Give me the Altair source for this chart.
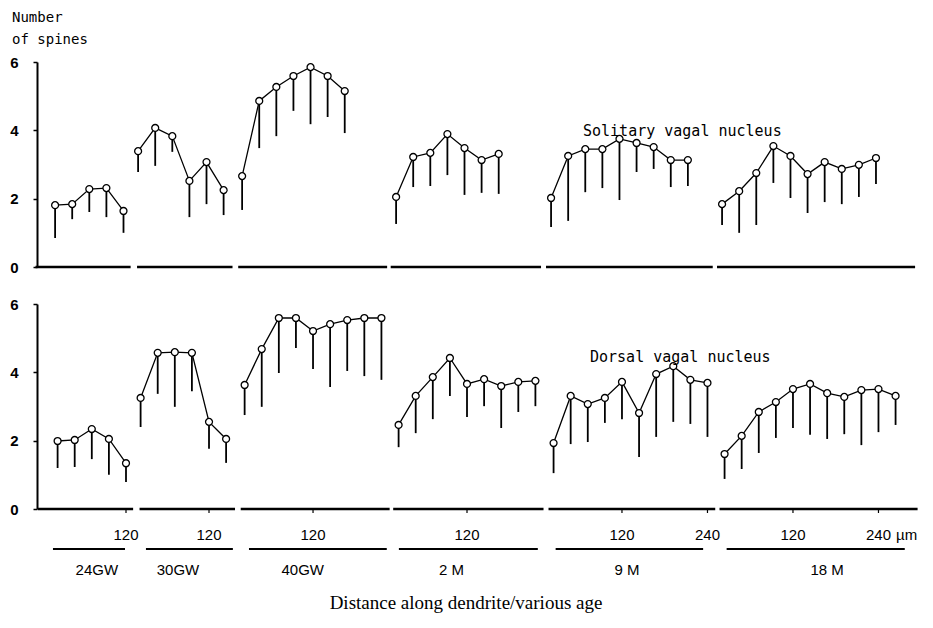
import altair as alt
import pandas as pd

# ---------------- data ----------------
groups = ["24GW", "30GW", "40GW", "2 M", "9 M", "18 M"]
step_um = 24  # spacing of measurement points along dendrite (µm)

# Solitary vagal nucleus: mean number of spines and lower end of SD bar
sol_mean = {
    "24GW": [1.81, 1.84, 2.28, 2.31, 1.64],
    "30GW": [3.39, 4.07, 3.83, 2.52, 3.07, 2.25],
    "40GW": [2.66, 4.86, 5.27, 5.59, 5.85, 5.59, 5.15],
    "2 M": [2.05, 3.22, 3.34, 3.89, 3.48, 3.13, 3.31],
    "9 M": [2.02, 3.25, 3.45, 3.45, 3.75, 3.63, 3.51, 3.13, 3.13],
    "18 M": [1.84, 2.22, 2.75, 3.54, 3.25, 2.72, 3.07, 2.87, 2.99, 3.19],
}
sol_lower = {
    "24GW": [0.85, 1.40, 1.61, 1.46, 1.00],
    "30GW": [2.78, 2.96, 3.37, 1.46, 1.84, 1.52],
    "40GW": [1.67, 3.48, 3.83, 4.57, 4.18, 4.39, 3.92],
    "2 M": [1.26, 2.34, 2.37, 2.69, 2.11, 2.17, 2.14],
    "9 M": [1.17, 1.35, 2.19, 2.31, 1.96, 2.78, 2.87, 2.34, 2.37],
    "18 M": [1.23, 1.00, 1.23, 2.46, 2.02, 1.58, 1.90, 1.84, 2.05, 2.43],
}
# Dorsal vagal nucleus
dor_mean = {
    "24GW": [1.99, 2.02, 2.34, 2.05, 1.34],
    "30GW": [3.25, 4.57, 4.59, 4.57, 2.55, 2.05],
    "40GW": [3.63, 4.68, 5.59, 5.59, 5.21, 5.41, 5.53, 5.59, 5.59],
    "2 M": [2.46, 3.31, 3.86, 4.42, 3.66, 3.80, 3.60, 3.72, 3.75],
    "9 M": [1.93, 3.31, 3.07, 3.25, 3.72, 2.81, 3.95, 4.18, 3.78, 3.69],
    "18 M": [1.61, 2.14, 2.84, 3.13, 3.51, 3.66, 3.39, 3.28, 3.48, 3.51, 3.31],
}
dor_lower = {
    "24GW": [1.20, 1.23, 1.46, 1.00, 0.79],
    "30GW": [2.40, 3.37, 2.99, 3.45, 1.76, 1.35],
    "40GW": [2.75, 2.99, 3.98, 4.71, 4.10, 3.57, 4.04, 3.89, 3.78],
    "2 M": [1.81, 2.22, 2.63, 3.31, 2.69, 3.01, 2.37, 2.84, 3.01],
    "9 M": [1.05, 1.90, 1.96, 2.52, 2.63, 1.52, 2.11, 2.55, 2.49, 2.11],
    "18 M": [0.88, 1.17, 1.64, 2.08, 2.37, 2.17, 2.05, 2.19, 1.87, 2.25, 2.46],
}
tick_values = {
    "24GW": [120], "30GW": [120], "40GW": [120], "2 M": [120],
    "9 M": [120, 240], "18 M": [120, 240],
}

# ---------------- layout constants (global µm axis) ----------------
group_offset = [0, 116.5, 262.5, 478.6, 696.1, 936.1]
seg_start = [-3.5, 139, 281, 495, 713, 953]
seg_end = [130, 273, 490, 706, 947, 1231]
lab_line_start = [17.5, 148, 292.6, 503, 723, 963]
lab_line_end = [118.6, 270, 486, 698, 930, 1213]
lab_center = [79, 193, 368, 577, 823, 1104]


def build(mean, lower):
    rows = []
    for g, off in zip(groups, group_offset):
        for i, (m, lo) in enumerate(zip(mean[g], lower[g])):
            d = step_um * (i + 1)
            rows.append({"group": g, "dist": d, "u": off + d, "mean": m, "lower": lo})
    return pd.DataFrame(rows)


sol = build(sol_mean, sol_lower)
dor = build(dor_mean, dor_lower)
segs = pd.DataFrame({"group": groups, "start": seg_start, "end": seg_end, "zero": [0] * 6})
ticks = pd.DataFrame(
    [{"group": g, "label": str(t), "u": off + t} for g, off in zip(groups, group_offset) for t in tick_values[g]]
)
labs = pd.DataFrame({"group": groups, "s": lab_line_start, "e": lab_line_end, "c": lab_center})

SANS = "Liberation Sans"


def text_layer(t, x, y, **kw):
    style = dict(align="left", baseline="middle", font=SANS, fontSize=15, color="black")
    style.update(kw)
    return alt.Chart(pd.DataFrame({"t": [t]})).mark_text(**style).encode(
        text="t:N", x=alt.value(x), y=alt.value(y)
    )


def panel(df, xr, yr, name_text, name_xy):
    xs = alt.Scale(domain=[0, 1000], range=xr)
    ys = alt.Scale(domain=[0, 6], range=yr)
    yaxis = alt.Axis(
        orient="left", values=[0, 2, 4, 6], title=None, grid=False,
        domainColor="black", domainWidth=2, tickColor="black", tickWidth=1.5,
        tickSize=4, labelPadding=15, labelFont=SANS, labelFontSize=15,
        labelFontWeight="bold", labelColor="black",
    )
    X = alt.X("u:Q", scale=xs, axis=None)
    err = alt.Chart(df).mark_rule(color="black", strokeWidth=1.8).encode(
        x=X, y=alt.Y("lower:Q", scale=ys, axis=yaxis), y2="mean:Q"
    )
    line = alt.Chart(df).mark_line(color="black", strokeWidth=1.3).encode(
        x=X, y=alt.Y("mean:Q", scale=ys, axis=yaxis), detail="group:N"
    )
    pts = alt.Chart(df).mark_point(
        shape="circle", filled=True, fill="white", stroke="black", strokeWidth=1.3, size=48, opacity=1
    ).encode(x=X, y=alt.Y("mean:Q", scale=ys, axis=yaxis))
    base = alt.Chart(segs).mark_rule(color="black", strokeWidth=2.5).encode(
        x=alt.X("start:Q", scale=xs, axis=None), x2="end:Q", y=alt.Y("zero:Q", scale=ys, axis=yaxis)
    )
    name = text_layer(name_text, name_xy[0], name_xy[1], font="DejaVu Sans Mono")
    return [base, err, line, pts, name], xs


top_layers, xs_top = panel(sol, [1.0, 713.5], [259, 54], "Solitary vagal nucleus", (546, 123))
bot_layers, xs_bot = panel(dor, [3.5, 716], [501, 296], "Dorsal vagal nucleus", (553, 349))

ylab1 = text_layer("Number", -25, 10, font="DejaVu Sans Mono", fontSize=14)
ylab2 = text_layer("of spines", -25, 32, font="DejaVu Sans Mono", fontSize=14)

tick_lab = alt.Chart(ticks).mark_text(
    align="center", baseline="middle", font=SANS, fontSize=15, color="black"
).encode(x=alt.X("u:Q", scale=xs_bot, axis=None), text="label:N", y=alt.value(527))
tick_marks = alt.Chart(ticks).mark_rule(color="black", strokeWidth=1.2).encode(
    x=alt.X("u:Q", scale=xs_bot, axis=None), y=alt.value(501), y2=alt.value(505)
)
um = text_layer("µm", 859, 527)
lab_lines = alt.Chart(labs).mark_rule(color="black", strokeWidth=2).encode(
    x=alt.X("s:Q", scale=xs_bot, axis=None), x2="e:Q", y=alt.value(541)
)
lab_text = alt.Chart(labs).mark_text(
    align="center", baseline="middle", font=SANS, fontSize=15, color="black"
).encode(x=alt.X("c:Q", scale=xs_bot, axis=None), text="group:N", y=alt.value(562))
title = text_layer("Distance along dendrite/various age", 429, 595,
                   align="center", font="Liberation Serif", fontSize=19)

top = alt.layer(*top_layers, ylab1, ylab2)
bottom = alt.layer(*bot_layers, tick_marks, tick_lab, um, lab_lines, lab_text, title)

chart = (
    alt.layer(top, bottom)
    .resolve_scale(x="independent", y="independent")
    .resolve_axis(x="independent", y="independent")
    .properties(
        width=888,
        height=612,
        autosize=alt.AutoSizeParams(type="none"),
        padding={"left": 29, "top": 0, "right": 0, "bottom": 0},
        view=alt.ViewBackground(stroke="transparent", strokeWidth=0),
    )
    .configure_view(stroke="transparent", strokeWidth=0)
    .configure(background="white")
)

chart.save("out.html", embed_options={"renderer": "svg", "actions": False})
